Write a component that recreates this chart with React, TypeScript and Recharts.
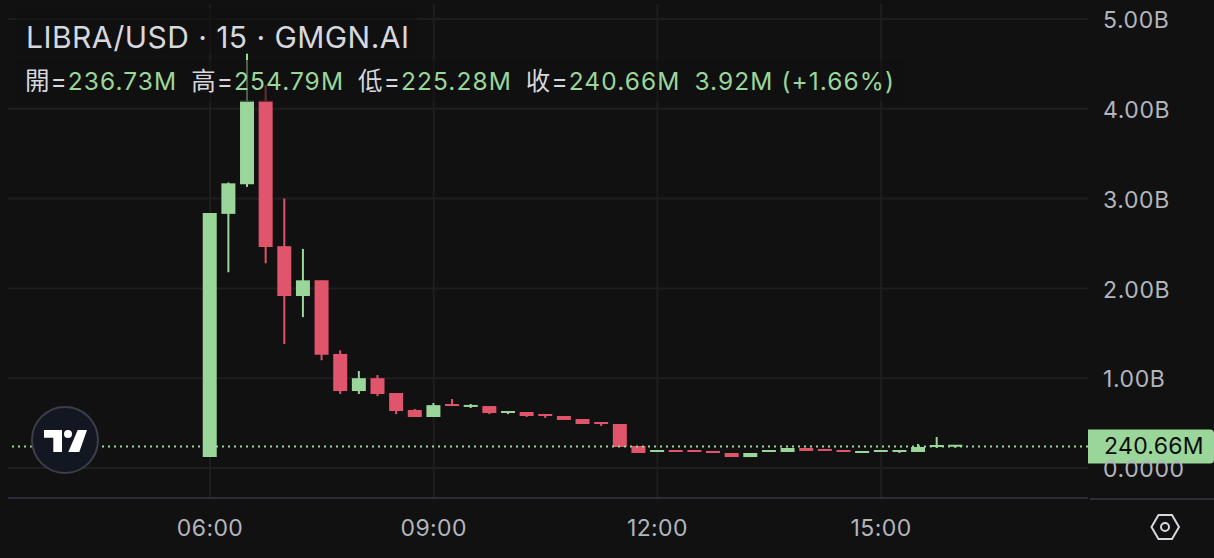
import React from "react";
import { ComposedChart, Bar, XAxis, YAxis, CartesianGrid, ReferenceLine, Cell } from "recharts";

const times = ["06:00","06:15","06:30","06:45","07:00","07:15","07:30","07:45","08:00","08:15","08:30","08:45","09:00","09:15","09:30","09:45","10:00","10:15","10:30","10:45","11:00","11:15","11:30","11:45","12:00","12:15","12:30","12:45","13:00","13:15","13:30","13:45","14:00","14:15","14:30","14:45","15:00","15:15","15:30","15:45","16:00"];
const opens = [0.122,2.83,3.16,4.09,2.47,1.915,2.09,1.27,0.857,1.0,0.835,0.646,0.568,0.713,0.68,0.69,0.612,0.624,0.6,0.579,0.546,0.512,0.49,0.245,0.178,0.2,0.2,0.19,0.167,0.122,0.178,0.178,0.223,0.212,0.2,0.167,0.178,0.178,0.178,0.234,0.2367];
const closes = [2.84,3.17,4.09,2.46,1.915,2.09,1.26,0.857,1.0,0.824,0.635,0.568,0.7,0.69,0.7,0.612,0.635,0.579,0.579,0.535,0.49,0.49,0.234,0.167,0.2,0.178,0.178,0.167,0.122,0.167,0.2,0.223,0.19,0.19,0.178,0.167,0.2,0.2,0.234,0.256,0.2407];
const highs = [2.84,3.18,4.62,4.265,3.0,2.44,2.09,1.31,1.08,1.035,0.835,0.657,0.724,0.768,0.713,0.69,0.635,0.624,0.6,0.579,0.546,0.512,0.49,0.245,0.2,0.2,0.2,0.19,0.167,0.167,0.2,0.223,0.223,0.212,0.2,0.167,0.2,0.2,0.268,0.345,0.2548];
const lows = [0.122,2.18,3.13,2.28,1.38,1.68,1.2,0.824,0.824,0.8,0.6,0.568,0.568,0.69,0.668,0.6,0.6,0.568,0.557,0.535,0.49,0.468,0.234,0.167,0.178,0.178,0.178,0.167,0.122,0.122,0.178,0.178,0.19,0.19,0.178,0.167,0.178,0.167,0.178,0.223,0.2253];
const priceTicks = [0,1,2,3,4,5];
const timeTicks = [360,540,720,900];
const lastClose = 0.24066;
const lastLabel = "240.66M";

const GREEN = "#9AD69A";
const RED = "#E0556B";
const BG = "#111111";
const FONT = "Inter, 'Noto Sans CJK TC', sans-serif";

const toMinutes = (t: string) => {
  const [h, m] = t.split(":").map(Number);
  return h * 60 + m;
};
const rows = times.map((t, i) => ({
  t: toMinutes(t),
  body: [Math.min(opens[i], closes[i]), Math.max(opens[i], closes[i])],
  wick: [lows[i], highs[i]],
  up: closes[i] >= opens[i],
}));

const fmtTime = (v: number) => `${String(Math.floor(v / 60)).padStart(2, "0")}:${String(v % 60).padStart(2, "0")}`;
const fmtPrice = (v: number) => (v === 0 ? "0.0000" : `${v.toFixed(2)}B`);

const PriceTag = (props: any) => {
  const { viewBox } = props;
  const x = viewBox.x + viewBox.width;
  const y = viewBox.y;
  return (
    <g>
      <path d={`M${x} ${y - 17}H${x + 122}Q${x + 126} ${y - 17} ${x + 126} ${y - 13}V${y + 13}Q${x + 126} ${y + 17} ${x + 122} ${y + 17}H${x}Z`} fill={GREEN} />
      <text x={x + 16} y={y + 8} fontSize={23} letterSpacing={0.3} fontFamily={FONT} fill="#0c0c0c">{lastLabel}</text>
    </g>
  );
};

const label: React.CSSProperties = { color: "#d6d8de" };
const val: React.CSSProperties = { color: GREEN };

export default function App() {
  return (
    <div style={{ position: "fixed", left: 0, top: 0, width: 1214, height: 558, background: BG, overflow: "hidden", fontFamily: FONT }}>
      <ComposedChart width={1214} height={558} data={rows} margin={{ top: 4, right: 0, bottom: 0, left: 8 }} barGap={0}>
        <CartesianGrid xAxisId="w" stroke="#1e1e1e" strokeWidth={2} syncWithTicks />
        <XAxis xAxisId="w" dataKey="t" type="number" domain={[197.4, 1066.5]} ticks={timeTicks} tickFormatter={fmtTime} height={60} stroke="#2b2e39" strokeWidth={2} tickLine={false} tick={{ fill: "#b2b5be", fontSize: 23, fontFamily: FONT, letterSpacing: 0.4 }} tickMargin={16} allowDataOverflow />
        <XAxis xAxisId="b" dataKey="t" type="number" domain={[197.4, 1066.5]} hide height={0} allowDataOverflow />
        <YAxis orientation="right" width={126} domain={[-0.334, 5.167]} ticks={priceTicks} tickFormatter={fmtPrice} axisLine={false} tickLine={false} tick={{ fill: "#b2b5be", fontSize: 23, fontFamily: FONT, textAnchor: "start", letterSpacing: 0.6, dy: 1 }} tickMargin={9} allowDataOverflow />
        <ReferenceLine xAxisId="w" y={lastClose} stroke={GREEN} strokeWidth={2} strokeDasharray="2 4" />
        <Bar xAxisId="w" dataKey="wick" barSize={2} isAnimationActive={false}>
          {rows.map((r, i) => <Cell key={i} fill={r.up ? GREEN : RED} />)}
        </Bar>
        <Bar xAxisId="b" dataKey="body" barSize={14} isAnimationActive={false} minPointSize={2}>
          {rows.map((r, i) => <Cell key={i} fill={r.up ? GREEN : RED} />)}
        </Bar>
        <ReferenceLine xAxisId="w" y={lastClose} stroke="none" label={<PriceTag />} />
      </ComposedChart>

      <div style={{ position: "absolute", left: 1090, top: 497.5, width: 124, height: 2, background: "#2b2e39" }} />

      <div style={{ position: "absolute", left: 16, top: 8, width: 401, height: 46, background: "rgba(17,17,17,0.6)" }} />
      <div style={{ position: "absolute", left: 16, top: 60, width: 890, height: 42, background: "rgba(17,17,17,0.6)" }} />
      <div style={{ position: "absolute", left: 26, top: 18, fontSize: 30, letterSpacing: 0.45, lineHeight: "38px", color: "#d6d8de", whiteSpace: "nowrap" }}>LIBRA/USD · 15 · GMGN.AI</div>
      <div style={{ position: "absolute", left: 25, top: 66, fontSize: 24.5, letterSpacing: 1.07, lineHeight: "30px", whiteSpace: "nowrap" }}>
        <span style={label}>開=</span><span style={val}>236.73M</span>
        <span style={{ ...label, marginLeft: 14 }}>高=</span><span style={val}>254.79M</span>
        <span style={{ ...label, marginLeft: 14 }}>低=</span><span style={val}>225.28M</span>
        <span style={{ ...label, marginLeft: 14 }}>收=</span><span style={val}>240.66M</span>
        <span style={{ ...val, marginLeft: 14 }}>3.92M</span>
        <span style={{ ...val, marginLeft: 8 }}>(+1.66%)</span>
      </div>

      <svg width={70} height={70} style={{ position: "absolute", left: 30, top: 405 }}>
        <circle cx={35} cy={35} r={33} fill="#131722" stroke="#3c3f4a" strokeWidth={2} />
        <path d="M14 25H32V47H23.3V32.7H14Z M47.7 25H57L49.3 47H38.3Z" fill="#fff" />
        <circle cx={38} cy={29} r={4} fill="#fff" />
      </svg>
      <svg width={32} height={28} style={{ position: "absolute", left: 1150, top: 513 }}>
        <path d="M1.5 14L8.5 2H22L29 14L22 26H8.5Z" fill="none" stroke="#d6d8de" strokeWidth={2} />
        <circle cx={15} cy={14} r={4} fill="none" stroke="#d6d8de" strokeWidth={2} />
      </svg>
    </div>
  );
}
